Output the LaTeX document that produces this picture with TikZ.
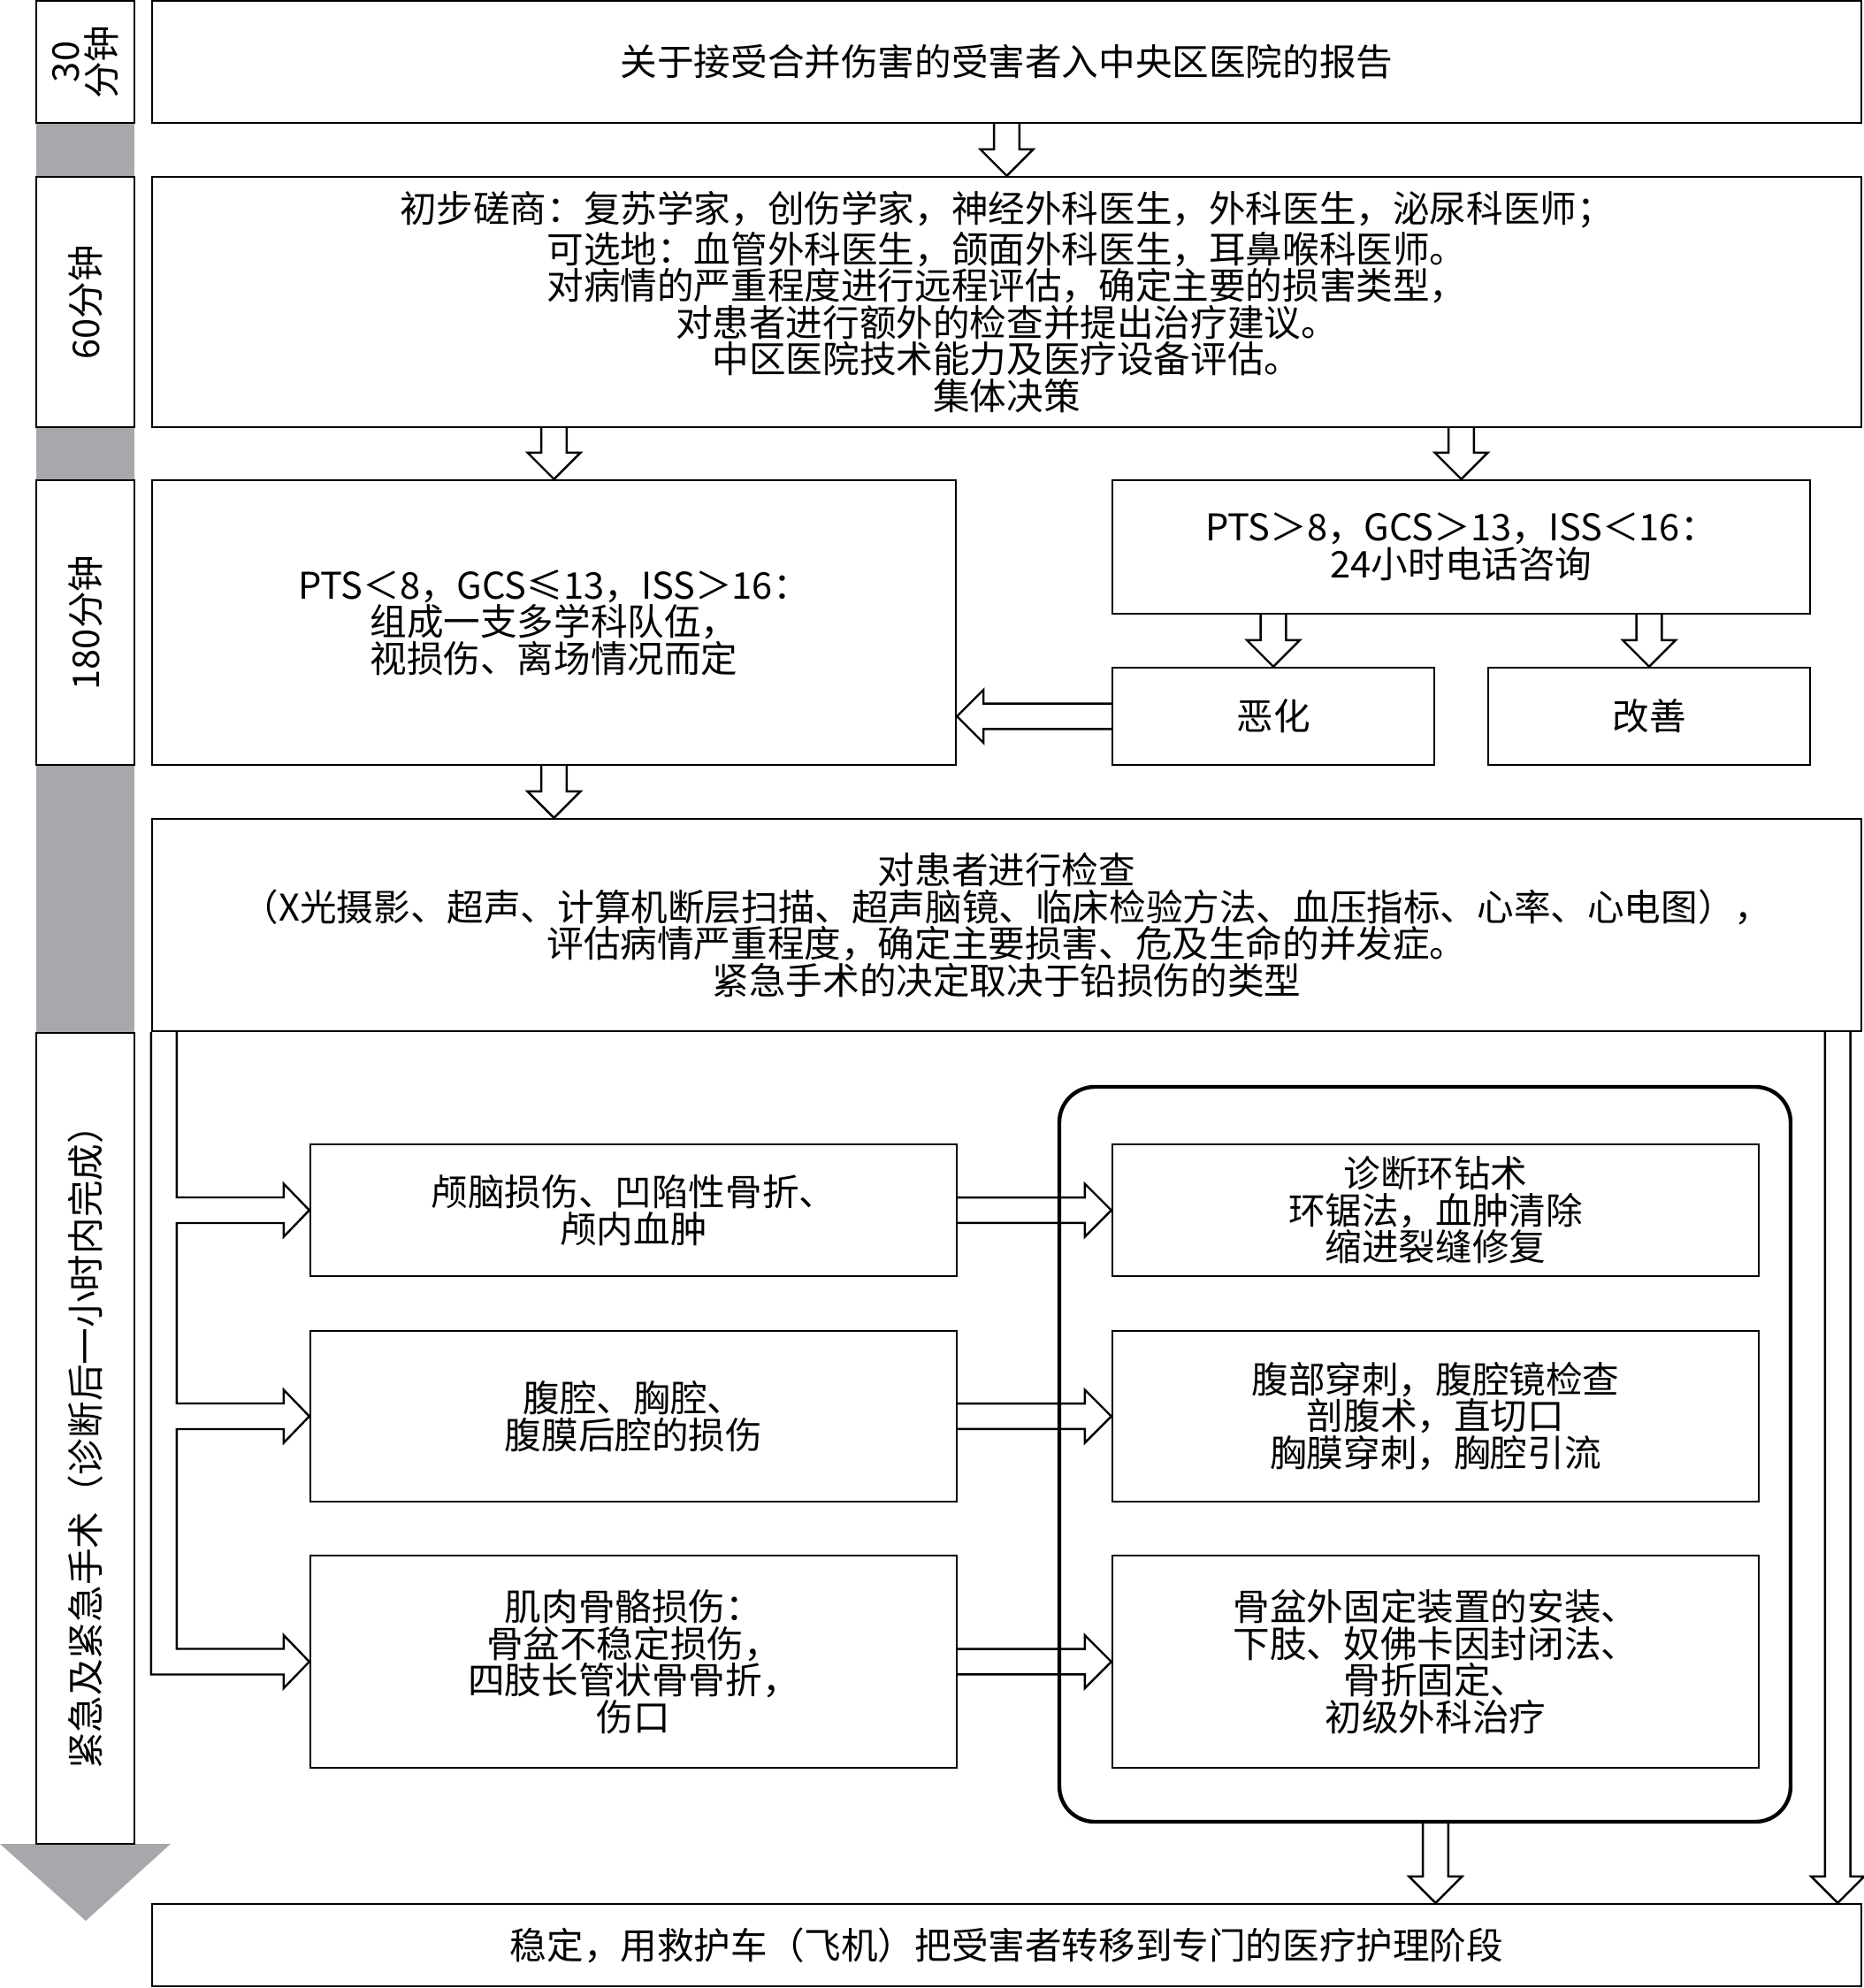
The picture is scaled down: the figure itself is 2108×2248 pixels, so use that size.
\documentclass[tikz,border=0pt]{standalone}
\usepackage{fontspec}
\setmainfont{Noto Sans CJK SC}
\usetikzlibrary{calc}
\definecolor{bargray}{RGB}{167,168,171}
\newcommand\hdown[2]{\draw[hollow] let \p1=(#1), \p2=(#2) in
  (\x1-3.6pt,\y1) -- (\x1-3.6pt,\y2+7.5pt) -- (\x1-7.5pt,\y2+7.5pt) -- (\x1,\y2)
  -- (\x1+7.5pt,\y2+7.5pt) -- (\x1+3.6pt,\y2+7.5pt) -- (\x1+3.6pt,\y1);}
\newcommand\hleft[2]{\draw[hollow] let \p1=(#1), \p2=(#2) in
  (\x1,\y1+3.6pt) -- (\x2+7.5pt,\y1+3.6pt) -- (\x2+7.5pt,\y1+7.5pt) -- (\x2,\y1)
  -- (\x2+7.5pt,\y1-7.5pt) -- (\x2+7.5pt,\y1-3.6pt) -- (\x1,\y1-3.6pt);}
\newcommand\hright[2]{\draw[hollow] let \p1=(#1), \p2=(#2) in
  (\x1,\y1+3.6pt) -- (\x2-7.5pt,\y1+3.6pt) -- (\x2-7.5pt,\y1+7.5pt) -- (\x2,\y1)
  -- (\x2-7.5pt,\y1-7.5pt) -- (\x2-7.5pt,\y1-3.6pt) -- (\x1,\y1-3.6pt);}
\begin{document}
\begin{tikzpicture}[x=0.25pt,y=-0.25pt,
    font=\fontsize{10.4pt}{10.4pt}\selectfont,
    box/.style={draw,line width=0.6pt,inner sep=0pt,align=center},
    sz/.style 2 args={minimum width=#1*0.25pt,minimum height=#2*0.25pt},
    tag/.style={box,rotate=90},
    hollow/.style={draw,line width=0.6pt,line join=miter}]
  \useasboundingbox (0,0) rectangle (2108,2248);
  \fill[bargray] (41,139) rectangle (152,200);
  \fill[bargray] (41,483) rectangle (152,543);
  \fill[bargray] (41,865) rectangle (152,1168);
  \fill[bargray] (0,2085) -- (193,2085) -- (97,2172) -- cycle;
  \node[tag,sz={138}{111}] (t30) at (96.5,70) {30\\分钟};
  \node[tag,sz={283}{111}] (t60) at (96.5,341.5) {60分钟};
  \node[tag,sz={322}{111}] (t180) at (96.5,704) {180分钟};
  \node[tag,sz={917}{111}] (tops) at (96.5,1626.5) {紧急及紧急手术（诊断后一小时内完成）};
  \node[box,sz={1933}{138}] (report) at (1138.5,70) {关于接受合并伤害的受害者入中央区医院的报告};
  \node[box,sz={1933}{283}] (consult) at (1138.5,341.5)
    {初步磋商：复苏学家，创伤学家，神经外科医生，外科医生，泌尿科医师；\\
     可选地：血管外科医生，颌面外科医生，耳鼻喉科医师。\\
     对病情的严重程度进行远程评估，确定主要的损害类型，\\
     对患者进行额外的检查并提出治疗建议。\\
     中区医院技术能力及医疗设备评估。\\
     集体决策};
  \node[box,sz={909}{322}] (severe) at (626.5,704)
    {PTS＜8，GCS≤13，ISS＞16：\\组成一支多学科队伍，\\视损伤、离场情况而定};
  \node[box,sz={789}{151}] (mild) at (1652.5,618.5)
    {PTS＞8，GCS＞13，ISS＜16：\\24小时电话咨询};
  \node[box,sz={364}{110}] (worse) at (1440,810) {恶化};
  \node[box,sz={364}{110}] (better) at (1865,810) {改善};
  \node[box,sz={1933}{240}] (exam) at (1138.5,1046)
    {对患者进行检查\\
     （X光摄影、超声、计算机断层扫描、超声脑镜、临床检验方法、血压指标、心率、心电图），\\
     评估病情严重程度，确定主要损害、危及生命的并发症。\\
     紧急手术的决定取决于铅损伤的类型};
  \node[draw,line width=1.1pt,rounded corners=10pt,sz={827}{831}] (group) at (1611.5,1644.5) {};
  \node[box,sz={731}{149}] (inj1) at (716.5,1368.5) {颅脑损伤、凹陷性骨折、\\颅内血肿};
  \node[box,sz={731}{193}] (inj2) at (716.5,1601.5) {腹腔、胸腔、\\腹膜后腔的损伤};
  \node[box,sz={731}{240}] (inj3) at (716.5,1879)
    {肌肉骨骼损伤：\\骨盆不稳定损伤，\\四肢长管状骨骨折，\\伤口};
  \node[box,sz={731}{149}] (tr1) at (1623.5,1368.5)
    {诊断环钻术\\环锯法，血肿清除\\缩进裂缝修复};
  \node[box,sz={731}{193}] (tr2) at (1623.5,1601.5)
    {腹部穿刺，腹腔镜检查\\剖腹术，直切口\\胸膜穿刺，胸腔引流};
  \node[box,sz={731}{240}] (tr3) at (1623.5,1879)
    {骨盆外固定装置的安装、\\下肢、奴佛卡因封闭法、\\骨折固定、\\初级外科治疗};
  \node[box,sz={1933}{93}] (final) at (1138.5,2199.5)
    {稳定，用救护车（飞机）把受害者转移到专门的医疗护理阶段};
  \begin{scope}
    \hdown{report.south}{consult.north}
    \hdown{consult.south -| severe.north}{severe.north}
    \hdown{consult.south -| mild.north}{mild.north}
    \hdown{mild.south -| worse.north}{worse.north}
    \hdown{mild.south -| better.north}{better.north}
    \hleft{worse.west}{worse.west -| severe.east}
    \hdown{severe.south}{severe.south |- exam.north}
    \hright{inj1.east}{tr1.west}
    \hright{inj2.east}{tr2.west}
    \hright{inj3.east}{tr3.west}
    \hdown{group.south -| tr3.south}{final.north -| tr3.south}
    \hdown{$(exam.south east)+(-28,0)$}{$(final.north east)+(-28,0)$}
    \path (inj1.west) ++(-29,-14.5) coordinate (a1t) ++(0,29) coordinate (a1b)
          (inj2.west) ++(-29,-14.5) coordinate (a2t) ++(0,29) coordinate (a2b)
          (inj3.west) ++(-29,-14.5) coordinate (a3t) ++(0,29) coordinate (a3b)
          (exam.south west) ++(29,0) coordinate (rail);
    \draw[hollow] (rail) |- (a1t) -- ++(0,-15.5) -- (inj1.west) -- ($(a1b)+(0,15.5)$) -- (a1b)
      -- (a1b -| rail) |- (a2t) -- ++(0,-15.5) -- (inj2.west) -- ($(a2b)+(0,15.5)$) -- (a2b)
      -- (a2b -| rail) |- (a3t) -- ++(0,-15.5) -- (inj3.west) -- ($(a3b)+(0,15.5)$) -- (a3b)
      -- (a3b -| exam.south west) -- (exam.south west);
  \end{scope}
\end{tikzpicture}
\end{document}
